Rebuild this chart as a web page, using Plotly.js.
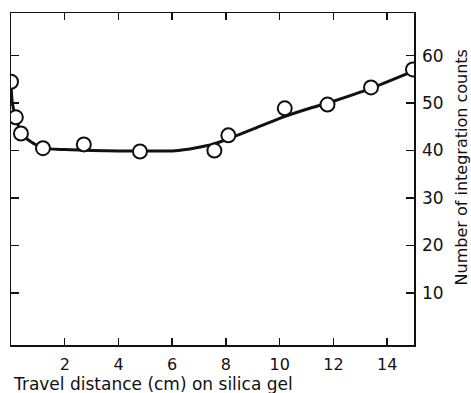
<!DOCTYPE html>
<html>
<head>
<meta charset="utf-8">
<script src="https://cdn.plot.ly/plotly-3.0.1.min.js"></script>
<style>html,body{margin:0;padding:0;background:#fff;}#chart{width:471px;height:393px;}</style>
</head>
<body>
<div id="chart"></div>
<script>
// Measured points
const pointX = [0, 0.18, 0.37, 1.19, 2.71, 4.80, 7.57, 8.09, 10.19, 11.78, 13.4, 14.96];
const pointY = [54.5, 47.0, 43.6, 40.5, 41.3, 39.8, 40.0, 43.2, 48.9, 49.7, 53.3, 57.1];
// Smooth fitted curve
const curveX = [0, 0.05, 0.2, 0.4, 0.7, 1.2, 2, 3, 4, 5, 6, 6.5, 7, 7.5, 8, 9, 10, 11, 12, 13, 14, 15];
const curveY = [54, 50, 46.5, 43.5, 42, 40.5, 40.2, 40, 39.9, 39.9, 39.9, 40.2, 40.7, 41.3, 42.3, 44.5, 46.8, 48.7, 50.4, 52.3, 54.5, 56.8];
const xTicks = [2, 4, 6, 8, 10, 12, 14];
const yTicks = [10, 20, 30, 40, 50, 60];
const xTitle = "Travel distance (cm) on silica gel";
const yTitle = "Number of integration counts";

const font = "DejaVu Sans, sans-serif";

const traces = [
  {x: curveX, y: curveY, mode: "lines", line: {color: "#111", width: 3, shape: "spline", smoothing: 0.6}, hoverinfo: "skip"},
  {x: pointX, y: pointY, mode: "markers", marker: {symbol: "circle", size: 14, color: "#fff", line: {color: "#111", width: 2}}}
];

const layout = {
  width: 471, height: 393,
  margin: {l: 11, r: 57, t: 13, b: 48},
  paper_bgcolor: "#fff", plot_bgcolor: "#fff",
  showlegend: false,
  font: {family: font, color: "#111", size: 14},
  xaxis: {
    range: [0, 15], tickvals: xTicks, ticktext: xTicks.map(String),
    ticks: "inside", ticklen: 7, tickwidth: 1.5, tickcolor: "#111",
    showline: true, linecolor: "#111", linewidth: 1.5, mirror: "ticks",
    showgrid: false, zeroline: false, ticklabelstandoff: 4,
    tickfont: {family: font, size: 16, color: "#111"}
  },
  yaxis: {
    range: [-1, 69], side: "right", tickvals: yTicks, ticktext: yTicks.map(String),
    ticks: "inside", ticklen: 8, tickwidth: 1.5, tickcolor: "#111",
    showline: true, linecolor: "#111", linewidth: 1.5, mirror: "ticks",
    showgrid: false, zeroline: false, ticklabelstandoff: 3,
    tickfont: {family: font, size: 17, color: "#111"}
  },
  annotations: [
    {text: xTitle, xref: "paper", yref: "paper", x: 0, y: 0, xanchor: "left", yanchor: "top", yshift: -27, xshift: 0,
     showarrow: false, font: {family: font, size: 17, color: "#111"}},
    {text: yTitle, xref: "paper", yref: "paper", x: 1, y: 0.535, xanchor: "center", yanchor: "middle", xshift: 47,
     textangle: -90, showarrow: false, font: {family: font, size: 16, color: "#111"}}
  ]
};

Plotly.newPlot("chart", traces, layout, {displayModeBar: false, staticPlot: true});
</script>
</body>
</html>
